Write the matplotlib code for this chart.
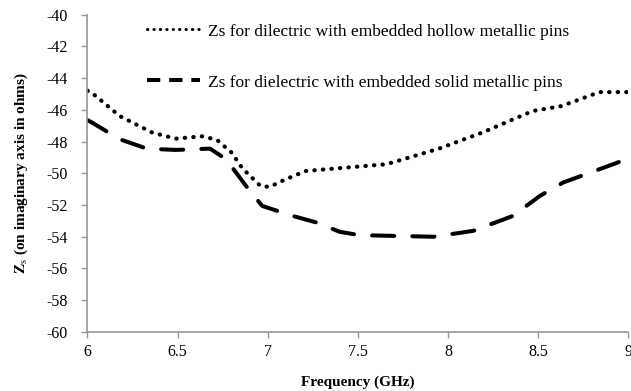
import matplotlib
matplotlib.use('Agg')
import matplotlib.pyplot as plt
from matplotlib.lines import Line2D

plt.rcParams['font.family'] = ['Liberation Serif', 'DejaVu Serif']
plt.rcParams['mathtext.fontset'] = 'stix'
plt.rcParams['axes.unicode_minus'] = False

# hollow pins (dotted)
hollow_x = [6.0, 6.02, 6.18, 6.36, 6.49, 6.64, 6.72, 6.80, 6.86, 6.96, 7.01, 7.10, 7.21, 7.44,
            7.66, 7.95, 8.19, 8.47, 8.63, 8.84, 9.0]
hollow_y = [-44.8, -44.89, -46.40, -47.44, -47.82, -47.67, -47.91, -48.70, -49.69, -50.80,
            -50.86, -50.38, -49.86, -49.64, -49.43, -48.45, -47.44, -46.08, -45.77, -44.89,
            -44.89]

# solid pins (dashed)
solid_x = [6.0, 6.02, 6.18, 6.33, 6.49, 6.68, 6.77, 6.88, 6.97, 7.14, 7.27, 7.40, 7.51,
           7.68, 7.92, 8.14, 8.36, 8.51, 8.64, 8.84, 9.0]
solid_y = [-46.65, -46.77, -47.86, -48.45, -48.53, -48.45, -49.12, -50.80, -52.06, -52.69,
           -53.10, -53.69, -53.90, -53.94, -54.0, -53.63, -52.69, -51.43, -50.58, -49.75,
           -49.08]

hollow_label = 'Zs for dilectric with embedded hollow metallic pins'
solid_label = 'Zs for dielectric with embedded solid metallic pins'

fig = plt.figure(figsize=(6.31, 3.91), dpi=100)
ax = fig.add_axes([0.1385, 0.1509, 0.857, 0.812])

ax.plot(hollow_x, hollow_y, color='black', lw=3, linestyle=(0, (0.1, 1.95)),
        dash_capstyle='round')
ax.plot(solid_x, solid_y, color='black', lw=2.9, linestyle=(0, (5.5, 4.5)),
        dash_capstyle='round')

ax.set_xlim(6, 9)
ax.set_ylim(-60, -40)
ax.set_xticks([6, 6.5, 7, 7.5, 8, 8.5, 9])
ax.set_xticklabels(['6', '6.5', '7', '7.5', '8', '8.5', '9'])
ax.set_yticks(range(-60, -39, 2))

for s in ['top', 'right']:
    ax.spines[s].set_visible(False)
for s in ['left', 'bottom']:
    ax.spines[s].set_color('#969696')
    ax.spines[s].set_linewidth(1.2)
ax.tick_params(colors='#969696', labelcolor='black', labelsize=11.5, length=4, width=1)
ax.tick_params(axis='x', pad=5)
ax.tick_params(axis='y', pad=10)

ax.set_xlabel('Frequency (GHz)', fontsize=11, fontweight='bold', labelpad=11)
ax.set_ylabel(r'$\mathbf{Z}_{\mathrm{s}}$ (on imaginary axis in ohms)', fontsize=11,
              fontweight='bold', labelpad=12)

h1 = Line2D([], [], color='black', lw=2.2, linestyle=(0, (0.1, 2.0)), dash_capstyle='round')
h2 = Line2D([], [], color='black', lw=2.9, linestyle=(0, (3.3, 2.2)), dash_capstyle='butt')
leg1 = ax.legend([h1], [hollow_label], loc='center left', bbox_to_anchor=(0.110, 0.9465),
                 frameon=False, fontsize=12.5, handlelength=3.05, handletextpad=0.46,
                 borderpad=0, borderaxespad=0)
ax.add_artist(leg1)
ax.legend([h2], [solid_label], loc='center left', bbox_to_anchor=(0.110, 0.786),
          frameon=False, fontsize=12.5, handlelength=3.05, handletextpad=0.46,
          borderpad=0, borderaxespad=0)

fig.savefig('out.png', dpi=100)
